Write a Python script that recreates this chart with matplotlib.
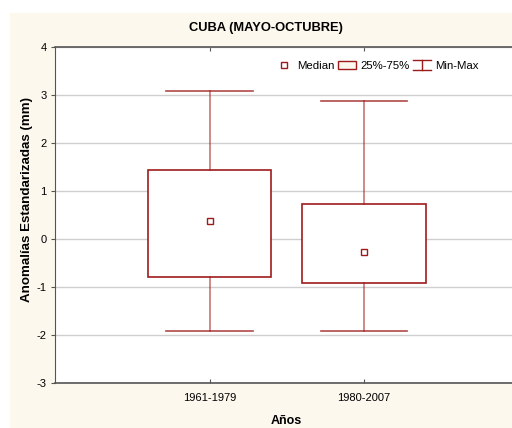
import matplotlib.pyplot as plt
from matplotlib.lines import Line2D
from matplotlib.patches import Patch, Rectangle
from matplotlib.legend_handler import HandlerBase

plt.rcParams['font.family'] = ['Liberation Sans', 'DejaVu Sans']
plt.rcParams['axes.unicode_minus'] = False

# data
periods = ["1961-1979", "1980-2007"]
medians = [0.38, -0.28]
q1 = [-0.80, -0.92]
q3 = [1.43, 0.72]
mins = [-1.91, -1.91]
maxs = [3.09, 2.88]

red = '#9E1B1B'
cream = '#FDF8EE'


class MinMaxHandler(HandlerBase):
    def create_artists(self, legend, orig_handle, xdescent, ydescent,
                       width, height, fontsize, trans):
        x0, x1 = -xdescent, -xdescent + width
        y0, y1 = -ydescent - 1, -ydescent + height + 1
        xm = (x0 + x1) / 2
        kw = dict(color=red, lw=1, transform=trans)
        return [Line2D([x0, x1], [y1, y1], **kw),
                Line2D([xm, xm], [y0, y1], **kw),
                Line2D([x0, x1], [y0, y0], **kw)]


fig = plt.figure(figsize=(5.12, 4.28), dpi=100, facecolor='white')
fig.patches.append(Rectangle((10 / 512, 0), 1, 1 - 13 / 428, transform=fig.transFigure,
                             facecolor=cream, edgecolor='none', zorder=-10))
ax = fig.add_axes([55 / 512, 45 / 428, 463.5 / 512, 336 / 428])
ax.set_facecolor('white')

stats = []
for i in range(len(periods)):
    stats.append(dict(med=medians[i], q1=q1[i], q3=q3[i],
                      whislo=mins[i], whishi=maxs[i], fliers=[]))
positions = [1, 2]
ax.bxp(stats, positions=positions, widths=0.8, capwidths=0.56, patch_artist=True,
       boxprops=dict(facecolor='white', edgecolor=red, lw=1.2),
       whiskerprops=dict(color=red, lw=1.2, alpha=0.6),
       capprops=dict(color=red, lw=1.2, alpha=0.8),
       medianprops=dict(lw=0), manage_ticks=False, zorder=3)
ax.plot(positions, medians, 's', ms=4, mfc='white', mec=red, mew=1, zorder=4)

ax.set_xlim(0, 3)
ax.set_ylim(-3, 4)
ax.set_xticks(positions)
ax.set_xticklabels(periods)
ax.set_yticks(range(-3, 5))
ax.yaxis.grid(True, color='#CFCFCF', lw=1)
ax.set_axisbelow(True)
ax.tick_params(axis='x', direction='in', top=True, length=3, labelsize=8, pad=7, color='#555555')
ax.tick_params(axis='y', direction='out', length=3, labelsize=8, pad=3, color='#555555')
for s in ['top', 'bottom']:
    ax.spines[s].set_color('#555555')
    ax.spines[s].set_linewidth(1.2)
ax.spines['left'].set_color('#555555')
ax.spines['right'].set_visible(False)

ax.set_xlabel('Años', fontsize=9, fontweight='bold')
ax.xaxis.set_label_coords(0.5, -0.095)
ax.set_ylabel('Anomalías Estandarizadas (mm)', fontsize=9.6, fontweight='bold')
ax.yaxis.set_label_coords(-0.047, 0.545)
fig.text(266 / 512, 1 - 28 / 428, 'CUBA (MAYO-OCTUBRE)', ha='center', va='center',
         fontsize=9.3, fontweight='bold')

mm = Line2D([], [])
handles = [Line2D([], [], ls='none', marker='s', ms=4, mfc='white', mec=red),
           Patch(facecolor=cream, edgecolor=red, lw=1),
           mm]
ax.legend(handles, ['Median', '25%-75%', 'Min-Max'], handler_map={mm: MinMaxHandler()},
          ncol=3, frameon=False, fontsize=8.2, handlelength=1.6, handletextpad=0.35,
          columnspacing=0.3, loc='center', bbox_to_anchor=(377 / 512, 1 - 66 / 428),
          bbox_transform=fig.transFigure)

fig.savefig('out.png', dpi=100, facecolor='white')
